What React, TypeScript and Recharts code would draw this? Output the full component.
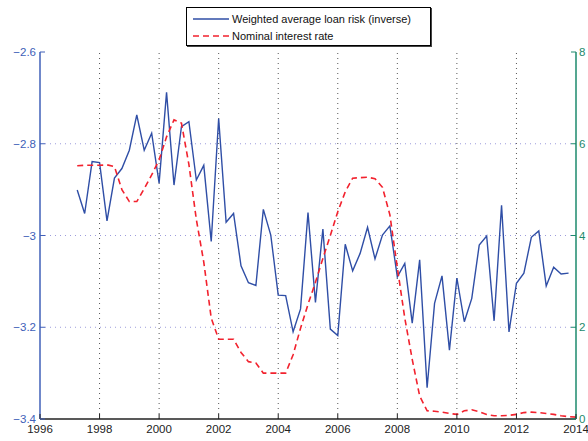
import { ComposedChart, Line, XAxis, YAxis, ReferenceLine } from 'recharts';

// quarterly observations, first one is 1997 Q2
const startYear = 1997.25;

const loanRisk = [
  -2.901, -2.952, -2.839, -2.841, -2.968, -2.875, -2.854, -2.814, -2.737, -2.814, -2.777,
  -2.886, -2.688, -2.89, -2.763, -2.752, -2.879, -2.847, -3.013, -2.745, -2.971, -2.952,
  -3.066, -3.103, -3.109, -2.943, -2.999, -3.13, -3.131, -3.21, -3.16, -2.95, -3.146,
  -2.986, -3.204, -3.218, -3.019, -3.077, -3.039, -2.982, -3.051, -2.999, -2.979, -3.09,
  -3.061, -3.191, -3.053, -3.332, -3.148, -3.088, -3.25, -3.093, -3.188, -3.137, -3.021,
  -3.001, -3.186, -2.934, -3.21, -3.104, -3.082, -3.004, -2.99, -3.11, -3.069, -3.084,
  -3.082,
];

const interestRate = [
  5.52, 5.53, 5.53, 5.53, 5.54, 5.5, 5.0, 4.74, 4.74, 5.02, 5.32, 5.65, 6.15, 6.52, 6.45,
  5.55, 4.35, 3.42, 2.2, 1.74, 1.74, 1.74, 1.45, 1.25, 1.22, 1.0, 1.0, 1.0, 1.0, 1.4, 1.98,
  2.5, 2.98, 3.5, 4.0, 4.52, 4.95, 5.25, 5.26, 5.27, 5.24, 5.05, 4.45, 3.3, 2.2, 1.3, 0.5,
  0.18, 0.17, 0.15, 0.12, 0.1, 0.18, 0.2, 0.16, 0.1, 0.07, 0.07, 0.08, 0.1, 0.14, 0.15,
  0.14, 0.12, 0.1, 0.07, 0.05, 0.04,
];

const yearTicks = [1996, 1998, 2000, 2002, 2004, 2006, 2008, 2010, 2012, 2014];
const gridYears = [1998, 2000, 2002, 2004, 2006, 2008, 2010, 2012];
const riskTicks = [-3.4, -3.2, -3, -2.8, -2.6];
const riskGrid = [-3.2, -3, -2.8];
const rateTicks = [0, 2, 4, 6, 8];

const data = interestRate.map((rate, i) => ({
  t: startYear + i / 4,
  risk: i < loanRisk.length ? loanRisk[i] : null,
  rate,
}));

const BLUE = '#2f4ea6';
const AXIS_BLUE = '#4060b8';
const GREEN = '#1d8a6c';
const RED = '#f2222e';
const FONT = '"Liberation Sans", Arial, sans-serif';

const fmt = (v: number) => String(v).replace('-', '\u2212');

const BottomTick = (props: any) => {
  const { x, y, payload } = props;
  return (
    <g>
      <line x1={x} x2={x} y1={y} y2={y - 5} stroke="#222" />
      <text x={x} y={y + 14} textAnchor="middle" fontSize={11.5} fill="#222" fontFamily={FONT}>
        {payload.value}
      </text>
    </g>
  );
};

const TopTick = (props: any) => {
  const { x, y } = props;
  return <line x1={x} x2={x} y1={y} y2={y + 5} stroke="#222" />;
};

const LeftTick = (props: any) => {
  const { x, y, payload } = props;
  return (
    <g>
      <line x1={x} x2={x + 5} y1={y} y2={y} stroke={AXIS_BLUE} />
      <text x={x - 4} y={y + 4} textAnchor="end" fontSize={11.5} fill={AXIS_BLUE} fontFamily={FONT}>
        {fmt(payload.value)}
      </text>
    </g>
  );
};

const RightTick = (props: any) => {
  const { x, y, payload } = props;
  return (
    <g>
      <line x1={x} x2={x - 5} y1={y} y2={y} stroke={GREEN} />
      <text x={x + 3} y={y + 4} textAnchor="start" fontSize={11.5} fill={GREEN} fontFamily={FONT}>
        {payload.value}
      </text>
    </g>
  );
};

export default function App() {
  return (
    <div style={{ position: 'absolute', left: 0, top: 0, width: 588, height: 441, background: '#fff' }}>
      <ComposedChart width={588} height={441} data={data} margin={{ top: 52, right: 0, bottom: 0, left: 0 }}>
        <XAxis
          xAxisId="b"
          dataKey="t"
          type="number"
          domain={[1996, 2014]}
          ticks={yearTicks}
          height={22}
          tickSize={0}
          tickMargin={0}
          tick={<BottomTick />}
          tickLine={false}
          axisLine={{ stroke: '#222', strokeWidth: 1.5 }}
          interval={0}
          allowDataOverflow
        />
        <XAxis
          xAxisId="top"
          orientation="top"
          dataKey="t"
          type="number"
          domain={[1996, 2014]}
          ticks={yearTicks}
          height={0}
          tickSize={0}
          tickMargin={0}
          tick={<TopTick />}
          tickLine={false}
          axisLine={{ stroke: '#333', strokeWidth: 1.2 }}
          interval={0}
        />
        <YAxis
          yAxisId="left"
          type="number"
          domain={[-3.4, -2.6]}
          ticks={riskTicks}
          width={40}
          tickSize={0}
          tickMargin={0}
          tick={<LeftTick />}
          tickLine={false}
          axisLine={{ stroke: AXIS_BLUE, strokeWidth: 1.5 }}
          interval={0}
          allowDataOverflow
        />
        <YAxis
          yAxisId="right"
          orientation="right"
          type="number"
          domain={[0, 8]}
          ticks={rateTicks}
          width={12}
          tickSize={0}
          tickMargin={0}
          tick={<RightTick />}
          tickLine={false}
          axisLine={{ stroke: GREEN, strokeWidth: 1.5 }}
          interval={0}
          allowDataOverflow
        />
        {gridYears.map((yr) => (
          <ReferenceLine key={yr} x={yr} xAxisId="b" yAxisId="left" stroke="#555" strokeDasharray="1 4" />
        ))}
        {riskGrid.map((v) => (
          <ReferenceLine key={v} y={v} xAxisId="b" yAxisId="left" stroke="#9c9cdc" strokeDasharray="1 4" />
        ))}
        <Line
          xAxisId="b"
          yAxisId="left"
          dataKey="risk"
          type="linear"
          stroke={BLUE}
          strokeWidth={1.4}
          dot={false}
          isAnimationActive={false}
        />
        <Line
          xAxisId="b"
          yAxisId="right"
          dataKey="rate"
          type="linear"
          stroke={RED}
          strokeWidth={1.6}
          strokeDasharray="6 4"
          dot={false}
          isAnimationActive={false}
        />
      </ComposedChart>

      {/* legend box */}
      <div
        style={{
          position: 'absolute',
          left: 186,
          top: 7,
          width: 243,
          height: 37,
          border: '1px solid #000',
          boxShadow: '1px 1px 0 #444',
          background: '#fff',
          fontFamily: FONT,
          fontSize: 11,
          color: '#111',
        }}
      >
        <div style={{ position: 'absolute', left: 6, top: 4, display: 'flex', alignItems: 'center', height: 13 }}>
          <svg width={36} height={4}>
            <line x1={0} x2={36} y1={2} y2={2} stroke={BLUE} strokeWidth={1.4} />
          </svg>
          <span style={{ marginLeft: 3 }}>Weighted average loan risk (inverse)</span>
        </div>
        <div style={{ position: 'absolute', left: 6, top: 21, display: 'flex', alignItems: 'center', height: 13 }}>
          <svg width={36} height={4}>
            <line x1={0} x2={36} y1={2} y2={2} stroke={RED} strokeWidth={1.6} strokeDasharray="6 4" />
          </svg>
          <span style={{ marginLeft: 3 }}>Nominal interest rate</span>
        </div>
      </div>
    </div>
  );
}
